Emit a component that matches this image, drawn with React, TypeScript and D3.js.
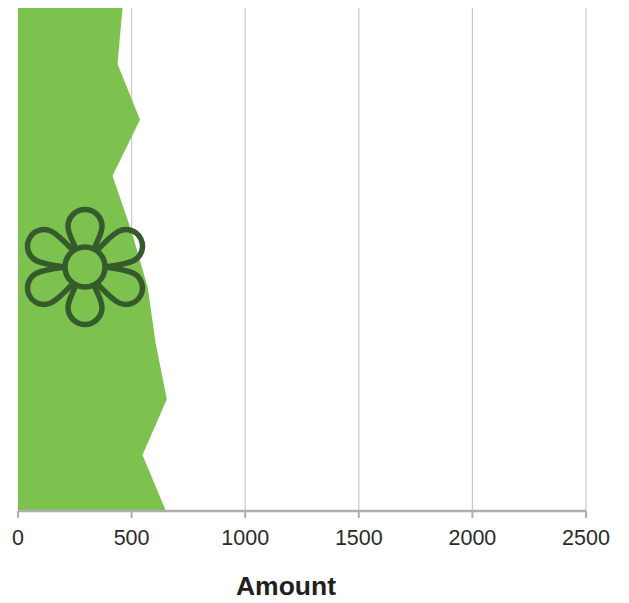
import React from "react";
import * as d3 from "d3";

const categories = ["1", "2", "3", "4", "5", "6", "7", "8", "9", "10"];
const amounts = [460, 438, 537, 416, 500, 571, 606, 655, 548, 651];
const xTicks = [0, 500, 1000, 1500, 2000, 2500];
const xTitle = "Amount";

const x = d3.scaleLinear().domain([0, 2500]).range([18, 586]);
const y = d3.scalePoint<string>().domain(categories).range([8, 511]);

const areaPath = d3
  .area<number>()
  .y((_, i) => y(categories[i]) as number)
  .x0(x(0))
  .x1((d) => x(d))(amounts) as string;

const petalPath = (dist: number, r: number) =>
  `M-9.5,-19 C-12,-26 -${r},-${dist - 7} -${r},-${dist} A${r},${r} 0 1 1 ${r},-${dist} C${r},-${dist - 7} 12,-26 9.5,-19`;
const petals = [
  { angle: 0, dist: 40.5, r: 17 },
  { angle: 63, dist: 46, r: 16.5 },
  { angle: 117, dist: 46, r: 16.5 },
  { angle: 180, dist: 40.5, r: 17 },
  { angle: 243, dist: 46, r: 16.5 },
  { angle: 297, dist: 46, r: 16.5 },
];

export default function App() {
  return (
    <svg
      width={629}
      height={603}
      style={{ position: "absolute", left: 0, top: 0, background: "#fff" }}
      fontFamily="'Liberation Sans', Arial, sans-serif"
    >
      {xTicks.slice(1).map((t) => (
        <line key={t} x1={x(t)} x2={x(t)} y1={8} y2={511} stroke="#c9c9c9" strokeWidth={1.2} />
      ))}
      <path d={areaPath} fill="#7dc24f" />
      <line x1={x(0)} x2={x(2500)} y1={511} y2={511} stroke="#aeaeb0" strokeWidth={2.4} />
      {xTicks.map((t) => (
        <g key={t} transform={`translate(${x(t)},0)`}>
          <line y1={511} y2={518} stroke="#aeaeb0" strokeWidth={2} />
          <text y={545} textAnchor="middle" fontSize={21.5} fill="#2b2a2b">
            {t}
          </text>
        </g>
      ))}
      <text x={286} y={595} textAnchor="middle" fontSize={26.5} fontWeight="bold" fill="#231f20">
        {xTitle}
      </text>
      <g transform="translate(85,267)" fill="none" stroke="#355b2c" strokeWidth={5.5}>
        {petals.map((p) => (
          <path key={p.angle} d={petalPath(p.dist, p.r)} transform={`rotate(${p.angle})`} />
        ))}
        <circle r={20} />
      </g>
    </svg>
  );
}
